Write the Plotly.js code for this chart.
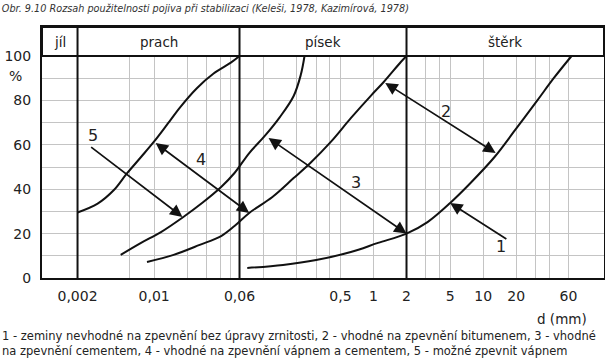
<!DOCTYPE html>
<html><head><meta charset="utf-8">
<script src="https://cdn.plot.ly/plotly-3.0.1.min.js"></script>
<style>html,body{margin:0;padding:0;background:#fff}#chart{width:605px;height:362px}</style>
</head><body><div id="chart"></div>
<script>
// ---------- data ----------
const titleText = 'Obr. 9.10 Rozsah použitelnosti pojiva při stabilizaci (Keleši, 1978, Kazimírová, 1978)';
const xGrid = [0.002,0.006,0.01,0.02,0.03,0.04,0.05,0.06,0.1,0.2,0.3,0.4,0.5,1,2,3,4,5,10,20,30,40,60];
const xTickText = ['0,002','','0,01','','','','','0,06','','','','','0,5','1','2','','','5','10','20','','','60'];
const yGrid = [0,10,20,30,40,50,60,70,80,90,100];
const yTickText = ['0','','20','','40','','60','','80','','100'];
const zoneBounds = [0.002, 0.06, 2];
const zoneNames = ['jíl','prach','písek','štěrk'];

const curve1X = [0.002,0.00305,0.00427,0.00562,0.00759,0.01,0.0133,0.0173,0.0245,0.0346,0.05,0.06];
const curve1Y = [29.5,33.5,39.5,47,54.5,61.5,69.5,77,85.5,92,97,100];
const curve2X = [0.00495,0.00759,0.01153,0.01845,0.0277,0.0408,0.054,0.0736,0.102,0.140,0.187,0.217,0.235];
const curve2Y = [10.4,15.8,20.7,27.5,34,41,47.3,56.3,64,72.5,82,91.4,100];
const curve3X = [0.0086,0.01503,0.026,0.0408,0.054,0.0736,0.1197,0.187,0.2655,0.408,0.621,0.958,1.24,1.775,2];
const curve3Y = [7.2,10.4,14.9,18.9,23.4,29.3,36.5,45,51.8,61.3,72,82.4,88.3,97.3,100];
const curve4X = [0.0706,0.1496,0.3,0.621,1.10,2,3.11,5,7.67,12.7,19.6,31.2,44,64];
const curve4Y = [4.5,5.9,8.1,11.7,15.8,20,25.2,33.8,42.8,54.5,66.7,80,90,100];

const arrowFromX = [16.8, 1.24, 0.107, 0.01, 0.00258];
const arrowFromY = [17.1, 88.3, 63.5, 61.3, 59.5];
const arrowToX = [5, 13, 2, 0.0736, 0.0181];
const arrowToY = [33.8, 56.3, 20, 29.3, 27.5];
const arrowDouble = [false, true, true, true, false];
const labelText = ['1','2','3','4','5'];
const labelX = [14.5, 4.61, 0.69, 0.0265, 0.00275];
const labelY = [14, 75.2, 42.8, 53.6, 64.4];

const noteLines = [
  '1 - zeminy nevhodné na zpevnění bez úpravy zrnitosti, 2 - vhodné na zpevnění bitumenem, 3 - vhodné',
  'na zpevnění cementem, 4 - vhodné na zpevnění vápnem a cementem, 5 - možné zpevnit vápnem'
];
const yUnit = '%';
const xUnit = 'd (mm)';

// ---------- drawing ----------
const FONT = 'DejaVu Sans, Verdana, sans-serif';
const xRange = [-3.023, 2.102];
const yTop = 100 + 29 / 2.22;           // header band above the 100 % line
const lg = Math.log10;
const toPaperX = v => (lg(v) - xRange[0]) / (xRange[1] - xRange[0]);

const curves = [[curve1X,curve1Y],[curve2X,curve2Y],[curve3X,curve3Y],[curve4X,curve4Y]];
const traces = curves.map(c => ({
  x: c[0], y: c[1], type: 'scatter', mode: 'lines',
  line: {color: '#111', width: 2, shape: 'spline', smoothing: 1},
  hoverinfo: 'skip'
}));

const shapes = [
  {type: 'rect', xref: 'paper', yref: 'y', x0: 0, x1: 1, y0: 100, y1: yTop, layer: 'above',
   fillcolor: '#fff', line: {color: '#111', width: 2}}
];
zoneBounds.forEach(b => shapes.push({
  type: 'line', xref: 'paper', yref: 'y', x0: toPaperX(b), x1: toPaperX(b), y0: 0, y1: yTop,
  layer: 'above', line: {color: '#111', width: 2}
}));

const annotations = [];
const edges = [xRange[0]].concat(zoneBounds.map(lg), [xRange[1]]);
zoneNames.forEach((n, i) => annotations.push({
  text: n, xref: 'x', yref: 'y', x: (edges[i] + edges[i+1]) / 2, y: (100 + yTop) / 2,
  xanchor: 'center', yanchor: 'middle',
  showarrow: false, font: {family: FONT, size: 13.5, color: '#222'}
}));
arrowFromX.forEach((_, i) => annotations.push({
  text: '', xref: 'x', yref: 'y', axref: 'x', ayref: 'y',
  x: lg(arrowToX[i]), y: arrowToY[i], ax: lg(arrowFromX[i]), ay: arrowFromY[i],
  showarrow: true, arrowhead: 2, arrowsize: 1.45, arrowwidth: 1.7, arrowcolor: '#111',
  arrowside: arrowDouble[i] ? 'end+start' : 'end', startarrowhead: 2, startarrowsize: 1.45,
  standoff: 0, startstandoff: 0
}));
labelText.forEach((t, i) => annotations.push({
  text: t, xref: 'x', yref: 'y', x: lg(labelX[i]), y: labelY[i], showarrow: false,
  xanchor: 'center', yanchor: 'middle',
  font: {family: FONT, size: 16, color: '#222'}
}));
annotations.push({text: yUnit, xref: 'paper', yref: 'paper', x: -0.048, y: 0.805, showarrow: false,
  xanchor: 'center', yanchor: 'middle', font: {family: FONT, size: 14, color: '#222'}});
annotations.push({text: xUnit, xref: 'paper', yref: 'paper', x: 0.925, y: -0.1633, showarrow: false,
  xanchor: 'center', yanchor: 'middle', font: {family: FONT, size: 13.5, color: '#222'}});
noteLines.forEach((t, i) => annotations.push({
  text: t, xref: 'paper', yref: 'paper', x: -0.0747, xanchor: 'left',
  y: -0.233 - i * 0.0598, yanchor: 'middle',
  showarrow: false, font: {family: FONT, size: 11.5, color: '#222'}
}));

const layout = {
  width: 605, height: 362,
  margin: {l: 42, r: 1, t: 27, b: 84, pad: 0},
  paper_bgcolor: '#fff', plot_bgcolor: '#fff',
  showlegend: false,
  title: {text: '<i>' + titleText + '</i>', x: 0.003, xanchor: 'left', xref: 'container',
          y: 0.975, yanchor: 'middle', yref: 'container',
          font: {family: FONT, size: 9.7, color: '#333'}},
  font: {family: FONT, color: '#222'},
  xaxis: {
    type: 'log', range: xRange, tickmode: 'array', tickvals: xGrid, ticktext: xTickText,
    showgrid: true, gridcolor: '#c4c4c4', gridwidth: 1, zeroline: false,
    showline: true, linecolor: '#111', linewidth: 2, mirror: true,
    ticks: '', ticklabelstandoff: 4, tickfont: {family: FONT, size: 14, color: '#222'}
  },
  yaxis: {
    range: [0, yTop], tickmode: 'array', tickvals: yGrid, ticktext: yTickText,
    showgrid: true, gridcolor: '#c4c4c4', gridwidth: 1, zeroline: false,
    showline: true, linecolor: '#111', linewidth: 2, mirror: true,
    ticks: '', ticklabelstandoff: 6, tickfont: {family: FONT, size: 14, color: '#222'}
  },
  shapes: shapes,
  annotations: annotations
};

Plotly.newPlot('chart', traces, layout, {staticPlot: true, displayModeBar: false});
</script>
</body></html>
